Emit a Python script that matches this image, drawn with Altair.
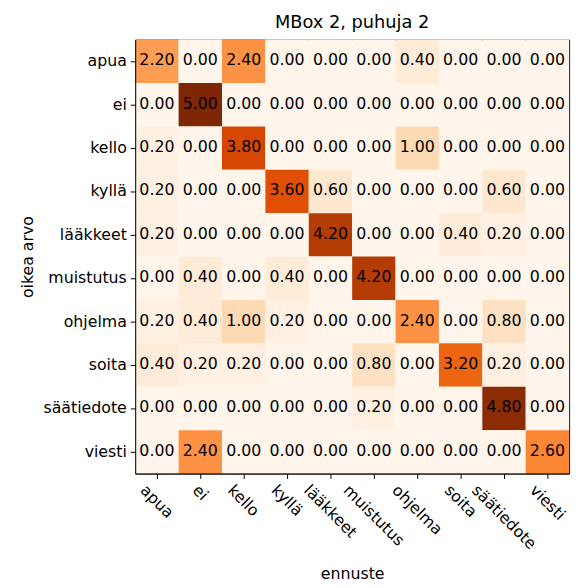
import altair as alt
import pandas as pd

labels = ["apua", "ei", "kello", "kyllä", "lääkkeet", "muistutus",
          "ohjelma", "soita", "säätiedote", "viesti"]

row_apua = [2.20, 0.00, 2.40, 0.00, 0.00, 0.00, 0.40, 0.00, 0.00, 0.00]
row_ei = [0.00, 5.00, 0.00, 0.00, 0.00, 0.00, 0.00, 0.00, 0.00, 0.00]
row_kello = [0.20, 0.00, 3.80, 0.00, 0.00, 0.00, 1.00, 0.00, 0.00, 0.00]
row_kylla = [0.20, 0.00, 0.00, 3.60, 0.60, 0.00, 0.00, 0.00, 0.60, 0.00]
row_laakkeet = [0.20, 0.00, 0.00, 0.00, 4.20, 0.00, 0.00, 0.40, 0.20, 0.00]
row_muistutus = [0.00, 0.40, 0.00, 0.40, 0.00, 4.20, 0.00, 0.00, 0.00, 0.00]
row_ohjelma = [0.20, 0.40, 1.00, 0.20, 0.00, 0.00, 2.40, 0.00, 0.80, 0.00]
row_soita = [0.40, 0.20, 0.20, 0.00, 0.00, 0.80, 0.00, 3.20, 0.20, 0.00]
row_saatiedote = [0.00, 0.00, 0.00, 0.00, 0.00, 0.20, 0.00, 0.00, 4.80, 0.00]
row_viesti = [0.00, 2.40, 0.00, 0.00, 0.00, 0.00, 0.00, 0.00, 0.00, 2.60]

rows = [row_apua, row_ei, row_kello, row_kylla, row_laakkeet, row_muistutus,
        row_ohjelma, row_soita, row_saatiedote, row_viesti]

recs = []
for i, t in enumerate(labels):
    for j, p in enumerate(labels):
        recs.append({"oikea": t, "ennuste": p, "v": rows[i][j]})
df = pd.DataFrame(recs)

# matplotlib "Oranges" colormap stops
oranges = ["#fff5eb", "#fee6ce", "#fdd0a2", "#fdae6b", "#fd8d3c",
           "#f16913", "#d94801", "#a63603", "#7f2704"]
vmax = 5.0
dom = [vmax * k / 8 for k in range(9)]

# approximate DejaVu Sans advance widths (em) to centre rotated labels like matplotlib
cw = {"a": .613, "p": .635, "u": .634, "e": .615, "i": .278, "k": .579, "l": .278,
      "o": .612, "y": .592, "ä": .613, "t": .392, "m": .974, "s": .521, "h": .634,
      "j": .278, "d": .635, "v": .592}
FS = 16
conds = []
for lab in labels:
    w = sum(cw.get(c, 0.6) for c in lab) * FS
    conds.append({"test": f"datum.value === '{lab}'", "value": round(-w * 0.3536, 1)})

font = "DejaVu Sans"

base = alt.Chart(df).encode(
    x=alt.X("ennuste:N", sort=labels, title="ennuste",
            scale=alt.Scale(paddingInner=0, paddingOuter=0),
            axis=alt.Axis(labelAngle=45, labelAlign="left", labelBaseline="middle",
                          labelOffset={"condition": conds, "value": 0},
                          labelPadding=9, labelOverlap=False, labelBound=False,
                          titlePadding=14)),
    y=alt.Y("oikea:N", sort=labels, title="oikea arvo",
            scale=alt.Scale(paddingInner=0, paddingOuter=0),
            axis=alt.Axis(labelPadding=4, titlePadding=8)),
)

rects = base.mark_rect().encode(
    color=alt.Color("v:Q", legend=None,
                    scale=alt.Scale(domain=dom, range=oranges, interpolate="rgb"))
)
texts = base.mark_text(font=font, fontSize=FS, color="black", dy=-1).encode(
    text=alt.Text("v:Q", format=".2f")
)

chart = (rects + texts).properties(
    width=440, height=440,
    title=alt.TitleParams("MBox 2, puhuja 2", font=font, fontSize=18,
                          fontWeight="normal", color="black", offset=8),
    autosize=alt.AutoSizeParams(type="none"),
    padding={"left": 129, "top": 28, "right": 8, "bottom": 110},
).configure_view(
    stroke="black", strokeWidth=1
).configure_axis(
    labelFont=font, labelFontSize=FS, labelColor="black",
    titleFont=font, titleFontSize=FS, titleFontWeight="normal", titleColor="black",
    domainColor="black", tickColor="black", tickSize=5, grid=False,
)

chart.save("out.html", embed_options={"renderer": "svg", "actions": False})
